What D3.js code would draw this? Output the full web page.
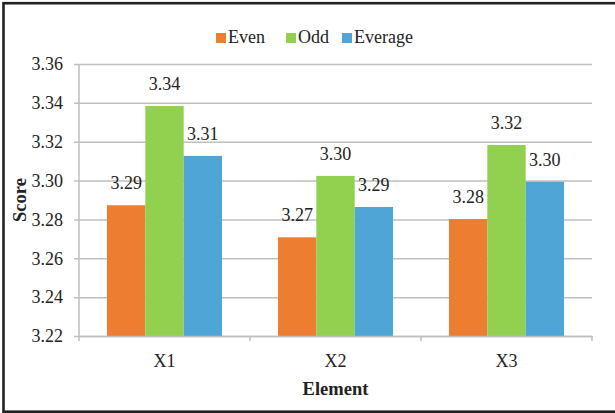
<!DOCTYPE html>
<html>
<head>
<meta charset="utf-8">
<script src="https://cdn.jsdelivr.net/npm/d3@7/dist/d3.min.js"></script>
<style>
  html, body { margin: 0; padding: 0; background: #fff; }
  svg { display: block; }
  svg text { font-family: "Liberation Serif", "Times New Roman", serif; fill: #222; }
</style>
</head>
<body>
<svg id="chart" width="615" height="413"></svg>
<script>
const categories = ["X1", "X2", "X3"];
const seriesNames = ["Even", "Odd", "Everage"];
const evenValues = [3.2873, 3.2708, 3.2802];
const oddValues = [3.3384, 3.3024, 3.3183];
const everageValues = [3.3127, 3.2864, 3.2994];
const yTicks = [3.22, 3.24, 3.26, 3.28, 3.30, 3.32, 3.34, 3.36];
const colors = ["#ED7D31", "#92D050", "#4FA5D5"];

const seriesValues = [evenValues, oddValues, everageValues];

const svg = d3.select("#chart");
const plotLeft = 79, plotRight = 592, plotTop = 64, plotBottom = 336;

// frame
svg.append("rect")
  .attr("x", 3.5).attr("y", 3.2).attr("width", 640).attr("height", 408.5)
  .attr("fill", "none").attr("stroke", "#222").attr("stroke-width", 2.6);

const y = d3.scaleLinear().domain([3.22, 3.36]).range([plotBottom, plotTop]);
const x0 = d3.scaleBand().domain(categories).range([plotLeft, plotRight]).paddingInner(0).paddingOuter(0);
const x1 = d3.scaleBand().domain(seriesNames).range([0, x0.bandwidth()]).paddingInner(0).paddingOuter(0.73);

// gridlines + y tick labels
const yAxis = d3.axisLeft(y).tickValues(yTicks).tickFormat(d3.format(".2f"))
  .tickSize(-(plotRight - plotLeft)).tickSizeOuter(0).tickPadding(16);
const gy = svg.append("g").attr("transform", `translate(${plotLeft},0)`).call(yAxis);
gy.attr("font-family", null).attr("font-size", null);
gy.select(".domain").remove();
gy.selectAll(".tick line").attr("stroke", "#BFBFBF").attr("stroke-width", 1.5).attr("x1", -5);
gy.selectAll(".tick text").style("font-size", "18px").attr("fill", "#222");

// bars
const groups = svg.append("g").selectAll("g").data(categories).join("g")
  .attr("transform", d => `translate(${x0(d)},0)`);
groups.selectAll("rect")
  .data((c, i) => seriesNames.map((s, j) => ({ s, j, v: seriesValues[j][i] })))
  .join("rect")
  .attr("x", d => x1(d.s))
  .attr("width", x1.bandwidth())
  .attr("y", d => y(d.v))
  .attr("height", d => y(3.22) - y(d.v))
  .attr("fill", d => colors[d.j]);

// value labels
groups.selectAll("text.val")
  .data((c, i) => seriesNames.map((s, j) => ({ s, j, v: seriesValues[j][i] })))
  .join("text")
  .attr("class", "val")
  .attr("x", d => x1(d.s) + x1.bandwidth() / 2)
  .attr("y", d => y(d.v) - 16)
  .attr("text-anchor", "middle")
  .style("font-size", "18px")
  .text(d => d3.format(".2f")(d.v));

// y axis line
svg.append("line").attr("x1", plotLeft).attr("x2", plotLeft).attr("y1", plotTop).attr("y2", plotBottom)
  .attr("stroke", "#BFBFBF").attr("stroke-width", 1.5);

// x axis
const xAxis = d3.axisBottom(x0).tickSize(0).tickPadding(18);
const gx = svg.append("g").attr("transform", `translate(0,${plotBottom})`).call(xAxis);
gx.attr("font-family", null).attr("font-size", null);
gx.select(".domain").attr("stroke", "#BFBFBF").attr("stroke-width", 1.5);
gx.selectAll(".tick text").style("font-size", "18px").attr("fill", "#222");
const seps = categories.map(c => x0(c)).concat([x0(categories[categories.length - 1]) + x0.bandwidth()]);
svg.append("g").selectAll("line").data(seps).join("line")
  .attr("x1", d => d).attr("x2", d => d).attr("y1", plotBottom).attr("y2", plotBottom + 5)
  .attr("stroke", "#BFBFBF").attr("stroke-width", 1.5);

// axis titles
svg.append("text").attr("x", 335.5).attr("y", 395).attr("text-anchor", "middle")
  .style("font-size", "18.5px").style("font-weight", "bold").text("Element");
svg.append("text").attr("transform", "translate(26,200) rotate(-90)").attr("text-anchor", "middle")
  .style("font-size", "18.5px").style("font-weight", "bold").text("Score");

// legend
const legendX = [216, 286, 342];
const lg = svg.append("g").selectAll("g").data(seriesNames).join("g")
  .attr("transform", (d, i) => `translate(${legendX[i]},33)`);
lg.append("rect").attr("width", 10).attr("height", 10).attr("fill", (d, i) => colors[i]);
lg.append("text").attr("x", 12).attr("y", 10).style("font-size", "18px").text(d => d);
</script>
</body>
</html>
